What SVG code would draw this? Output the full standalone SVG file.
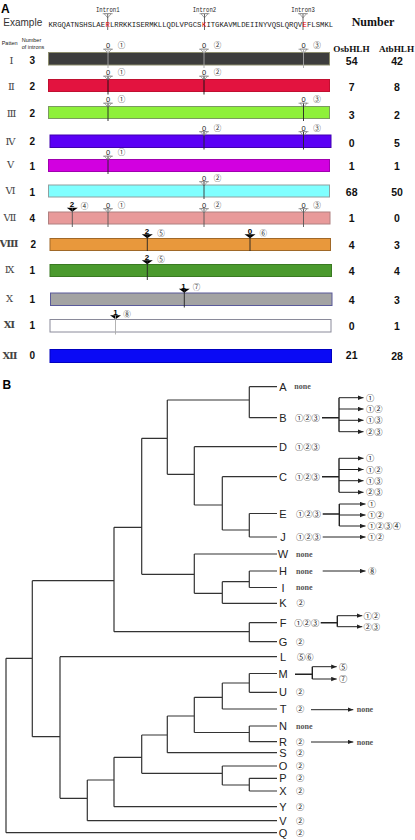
<svg xmlns="http://www.w3.org/2000/svg" xmlns:xlink="http://www.w3.org/1999/xlink" width="415" height="840" viewBox="0 0 415 840">
<style>
text{font-family:"Liberation Sans","DejaVu Sans",sans-serif;}
.pl{font-weight:bold;font-size:12px;fill:#000;}
.mono{font-family:"Liberation Mono","DejaVu Sans Mono",monospace;fill:#222;}
.seq{font-family:"Liberation Mono","DejaVu Sans Mono",monospace;fill:#222;font-size:7.25px;}
.red{fill:#e00000;}
.hdr{font-size:5.5px;fill:#222;}
.rom{font-family:"Liberation Serif","DejaVu Serif","Noto Sans CJK SC",serif;font-size:10px;fill:#444;text-anchor:middle;}
.ni{font-weight:bold;font-size:10px;fill:#111;text-anchor:middle;}
.num{font-weight:bold;font-size:10.5px;fill:#111;text-anchor:middle;}
.ser{font-family:"Liberation Serif","DejaVu Serif",serif;font-weight:bold;fill:#111;text-anchor:middle;}
.dig{font-size:7.5px;fill:#222;text-anchor:middle;}
.fdig{font-size:8px;font-weight:bold;fill:#000;text-anchor:middle;}
.cir{font-family:"Noto Sans CJK JP","DejaVu Sans",sans-serif;font-size:7.5px;fill:#333;text-anchor:middle;}
.vl{stroke-width:0.9;}
.tl{font-size:11px;fill:#222;text-anchor:middle;}
.ann{font-family:"Noto Sans CJK JP","DejaVu Sans",sans-serif;font-size:8.3px;fill:#222;}
.none{font-family:"Liberation Serif","DejaVu Serif",serif;font-weight:bold;font-size:8px;fill:#555;}
.tree{fill:none;stroke:#333;stroke-width:1.2;}
.arr{fill:none;stroke:#222;stroke-width:1;marker-end:url(#ah);}
.cn{fill:none;stroke:#222;stroke-width:1.4;}
</style>
<defs>
<marker id="ah" markerUnits="userSpaceOnUse" markerWidth="6" markerHeight="5" refX="5.5" refY="2.5" orient="auto"><path d="M0,0.3L5.5,2.5L0,4.7Z" fill="#222"/></marker>
<g id="hmk"><path d="M-5,-3.3H5" stroke="#666" stroke-width="0.6"/><path d="M-3.5,-3.3L3.5,-3.3L0,0.8Z" fill="#fff" stroke="#666" stroke-width="0.6"/></g>
<g id="fmk"><path d="M-5.5,-4.3H5.5L0,-0.3Z" fill="#000"/></g>
</defs>
<rect width="415" height="840" fill="#fff"/>

<g id="panelA">
<text class="pl" x="1" y="13.3">A</text>
<text x="3.3" y="26" style="font-size:10px;fill:#333">Example</text>
<g id="introns">
<text class="mono" x="96" y="11.5" style="font-size:8px" textLength="23.5" lengthAdjust="spacingAndGlyphs">Intron1</text>
<text class="mono" x="192.7" y="11.5" style="font-size:8px" textLength="23.5" lengthAdjust="spacingAndGlyphs">Intron2</text>
<text class="mono" x="291.3" y="11.5" style="font-size:8px" textLength="23.5" lengthAdjust="spacingAndGlyphs">Intron3</text>
<use xlink:href="#hmk" x="107.7" y="17"/>
<use xlink:href="#hmk" x="204.5" y="17"/>
<use xlink:href="#hmk" x="303" y="17"/>
<path d="M107.7,14V30M204.5,14V30M303,14V30" stroke="#444" stroke-width="0.8"/>
</g>
<g id="sequence">
<text class="seq" x="48.5" y="26.5">KRGQATNSHSLAE</text>
<text class="seq red" x="105.55" y="26.5">R</text>
<text class="seq" x="110" y="26.5">LRRKKISERMKLLQDLVPGCS</text>
<text class="seq red" x="201.95" y="26.5">K</text>
<text class="seq" x="206.4" y="26.5">ITGKAVMLDEIINYVQSLQRQV</text>
<text class="seq red" x="302.55" y="26.5">E</text>
<text class="seq" x="307" y="26.5">FLSMKL</text>
</g>
<text class="ser" x="373" y="26" style="font-size:12px">Number</text>
<text x="1.7" y="44.5" class="hdr">Patten</text>
<text x="21.7" y="42" class="hdr">Number</text>
<text x="21.7" y="48.5" class="hdr">of introns</text>
<text class="ser" x="351.5" y="52" style="font-size:9.2px">OsbHLH</text>
<text class="ser" x="396.5" y="52" style="font-size:9.2px">AtbHLH</text>

<g id="row-I">
<rect x="48.5" y="52.5" width="281" height="12.5" fill="#3d3d3d" stroke="#8d8d6d" stroke-width="1"/>
<use xlink:href="#hmk" x="108" y="52.5"/><use xlink:href="#hmk" x="204" y="52.5"/><use xlink:href="#hmk" x="303.5" y="52.5"/>
<path class="vl" d="M108,49.5V68M204,49.5V68M303.5,49.5V68" stroke="#a8a8a8"/>
<text class="dig" x="108" y="48.3">0</text><text class="cir" x="121.5" y="48">①</text>
<text class="dig" x="204" y="48.3">0</text><text class="cir" x="217.5" y="48">②</text>
<text class="dig" x="303.5" y="48.3">0</text><text class="cir" x="317" y="48">③</text>
<text class="rom" x="11.5" y="63.5">Ⅰ</text><text class="ni" x="32.3" y="64">3</text>
<text class="num" x="351.7" y="65.3">54</text><text class="num" x="397" y="65.3">42</text>
</g>

<g id="row-II">
<rect x="48.5" y="79.5" width="281" height="12" fill="#e3133f" stroke="#c01030" stroke-width="1"/>
<use xlink:href="#hmk" x="108" y="79.5"/><use xlink:href="#hmk" x="204" y="79.5"/>
<path class="vl" d="M108,76.5V94.5M204,76.5V94.5" stroke="#111"/>
<text class="dig" x="108" y="75.3">0</text><text class="cir" x="121.5" y="75">①</text>
<text class="dig" x="204" y="75.3">0</text><text class="cir" x="217.5" y="75">②</text>
<text class="rom" x="11.5" y="90">Ⅱ</text><text class="ni" x="32.3" y="90">2</text>
<text class="num" x="351.7" y="90.9">7</text><text class="num" x="397" y="90.9">8</text>
</g>

<g id="row-III">
<rect x="48.5" y="106.5" width="281" height="12" fill="#8ef03a" stroke="#7a9a60" stroke-width="1"/>
<use xlink:href="#hmk" x="108" y="106.5"/><use xlink:href="#hmk" x="303.5" y="106.5"/>
<path class="vl" d="M108,103.5V121M303.5,103.5V121" stroke="#222"/>
<text class="dig" x="108" y="102.3">0</text><text class="cir" x="121.5" y="102">①</text>
<text class="dig" x="303.5" y="102.3">0</text><text class="cir" x="317" y="102">③</text>
<text class="rom" x="11.5" y="117">Ⅲ</text><text class="ni" x="32.3" y="117">2</text>
<text class="num" x="351.7" y="118.6">3</text><text class="num" x="397" y="118.6">2</text>
</g>

<g id="row-IV">
<rect x="50" y="135" width="281" height="12.5" fill="#5a00f5" stroke="#4000b0" stroke-width="1"/>
<use xlink:href="#hmk" x="204" y="135"/><use xlink:href="#hmk" x="303.5" y="135"/>
<path class="vl" d="M204,132V149.5M303.5,132V149.5" stroke="#222"/>
<text class="dig" x="204" y="130.8">0</text><text class="cir" x="217.5" y="130.5">②</text>
<text class="dig" x="303.5" y="130.8">0</text><text class="cir" x="317" y="130.5">③</text>
<text class="rom" x="10.5" y="145">Ⅳ</text><text class="ni" x="32.3" y="145">2</text>
<text class="num" x="351.7" y="146.9">0</text><text class="num" x="397" y="146.9">5</text>
</g>

<g id="row-V">
<rect x="48.5" y="159.5" width="281" height="12" fill="#d200e0" stroke="#a000b0" stroke-width="1"/>
<use xlink:href="#hmk" x="108" y="159.5"/>
<path class="vl" d="M108,156.5V174" stroke="#222"/>
<text class="dig" x="108" y="155.3">0</text><text class="cir" x="121.5" y="155">①</text>
<text class="rom" x="10.5" y="168">Ⅴ</text><text class="ni" x="32.3" y="170">1</text>
<text class="num" x="351.7" y="170.3">1</text><text class="num" x="397" y="170.3">1</text>
</g>

<g id="row-VI">
<rect x="48.5" y="185" width="281" height="12" fill="#80ffff" stroke="#90a0a0" stroke-width="1"/>
<use xlink:href="#hmk" x="204" y="185"/>
<path class="vl" d="M204,182V199" stroke="#333"/>
<text class="dig" x="204" y="180.8">0</text><text class="cir" x="217.5" y="180.5">②</text>
<text class="rom" x="10.5" y="194">Ⅵ</text><text class="ni" x="32.3" y="196">1</text>
<text class="num" x="351.7" y="195.9">68</text><text class="num" x="397" y="195.9">50</text>
</g>

<g id="row-VII">
<rect x="48.5" y="212" width="281.5" height="12" fill="#e89a9a" stroke="#b08080" stroke-width="1"/>
<use xlink:href="#fmk" x="72.3" y="212"/><use xlink:href="#hmk" x="108" y="212"/><use xlink:href="#hmk" x="204" y="212"/><use xlink:href="#hmk" x="303.5" y="212"/>
<path class="vl" d="M72.3,208V227M108,209V227M204,209V227M303.5,209V227" stroke="#555"/>
<text class="fdig" x="72" y="207">2</text><text class="cir" x="84.5" y="209">④</text>
<text class="dig" x="108" y="207.8">0</text><text class="cir" x="121.5" y="207.5">①</text>
<text class="dig" x="204" y="207.8">0</text><text class="cir" x="217.5" y="207.5">②</text>
<text class="dig" x="303.5" y="207.8">0</text><text class="cir" x="317" y="207.5">③</text>
<text class="rom" x="10" y="221">Ⅶ</text><text class="ni" x="32.3" y="222">4</text>
<text class="num" x="351.7" y="221.9">1</text><text class="num" x="397" y="221.9">0</text>
</g>

<g id="row-VIII">
<rect x="50" y="238.5" width="280.5" height="12" fill="#e8983c" stroke="#a06828" stroke-width="1"/>
<use xlink:href="#fmk" x="147.3" y="238.5"/><use xlink:href="#fmk" x="250" y="238.5"/>
<path class="vl" d="M147.3,234.5V251M250,234.5V251" stroke="#222"/>
<text class="fdig" x="147" y="234">2</text><text class="cir" x="161" y="235.5">⑤</text>
<text class="fdig" x="250" y="234">0</text><text class="cir" x="263.3" y="235.5">⑥</text>
<text class="rom" x="9" y="247" style="font-weight:bold">Ⅷ</text><text class="ni" x="33.3" y="248">2</text>
<text class="num" x="351.7" y="248.6">4</text><text class="num" x="397" y="248.6">3</text>
</g>

<g id="row-IX">
<rect x="50" y="264.5" width="281.5" height="12" fill="#4b9a2e" stroke="#3a7a22" stroke-width="1"/>
<use xlink:href="#fmk" x="147.3" y="264.5"/>
<path class="vl" d="M147.3,260.5V280" stroke="#222"/>
<text class="fdig" x="147" y="260">2</text><text class="cir" x="161" y="261.5">⑤</text>
<text class="rom" x="9.5" y="273">Ⅸ</text><text class="ni" x="32.3" y="274">1</text>
<text class="num" x="351.7" y="275.3">4</text><text class="num" x="397" y="275.3">4</text>
</g>

<g id="row-X">
<rect x="50.5" y="293" width="281.5" height="12.5" fill="#a3a3a3" stroke="#5a5a9a" stroke-width="1"/>
<use xlink:href="#fmk" x="184.3" y="293"/>
<path class="vl" d="M184.3,289V307.5" stroke="#222"/>
<text class="fdig" x="183.5" y="288.5">1</text><text class="cir" x="196.5" y="290">⑦</text>
<text class="rom" x="9.5" y="302">Ⅹ</text><text class="ni" x="32.3" y="303">1</text>
<text class="num" x="351.7" y="303.6">4</text><text class="num" x="397" y="303.6">3</text>
</g>

<g id="row-XI">
<rect x="50" y="319.5" width="281" height="12.5" fill="#ffffff" stroke="#8a8a9a" stroke-width="1"/>
<use xlink:href="#fmk" x="115.5" y="319.5"/>
<path class="vl" d="M115.5,315.5V334.5" stroke="#aaa"/>
<text class="fdig" x="115.5" y="315">1</text><text class="cir" x="127" y="316.5">⑧</text>
<text class="rom" x="9.5" y="328" style="font-weight:bold">Ⅺ</text><text class="ni" x="32.3" y="329">1</text>
<text class="num" x="351.7" y="330.3">0</text><text class="num" x="397" y="330.3">1</text>
</g>

<g id="row-XII">
<rect x="50" y="349.5" width="281.5" height="13" fill="#0a0af5" stroke="#0000c0" stroke-width="1"/>
<text class="rom" x="10" y="359" style="font-weight:bold">Ⅻ</text><text class="ni" x="32.3" y="359">0</text>
<text class="num" x="351.7" y="358.6">21</text><text class="num" x="397" y="360">28</text>
</g>
</g>

<g id="panelB">
<text class="pl" x="2.5" y="388.6">B</text>
<g id="connectors">
<path class="tree" d="M249.3,386.7V417.7M249.3,386.7H277M249.3,417.7H277M167.3,400H249.3
M167.3,400V474.3M141.7,438.3H167.3
M194.3,446.7V505M194.3,446.7H277M167.3,474.3H194.3
M222.3,476.7V530M222.3,476.7H277M194.3,505H222.3
M249.3,513.5V537M249.3,513.5H277M249.3,537H277M222.3,530H249.3
M141.7,438.3V574.3
M194.3,554V593.3M194.3,554H277M141.7,574.3H194.3
M222.3,581.7V603.3M222.3,603.3H277M194.3,593.3H222.3
M249.3,571V587.5M249.3,571H277M249.3,587.5H277M222.3,581.7H249.3
M114,527.3V631.7M114,527.3H141.7
M249.3,622.7V641.7M249.3,622.7H277M249.3,641.7H277M114,631.7H249.3
M32.3,580.7V736.7M32.3,580.7H114
M6,658.3V832.7M6,658.3H32.3M6,832.7H277
M60,656.7V798.3M60,656.7H277M32.3,736.7H60
M87.3,780V820.7M87.3,820.7H277M60,798.3H87.3
M114,757.3V806.7M114,806.7H277M87.3,780H114
M141.7,735V773.3M114,757.3H141.7
M222.3,766V785M222.3,766H277M141.7,773.3H222.3
M249.3,778.3V791M249.3,778.3H277M249.3,791H277M222.3,785H249.3
M167.3,716V752.7M167.3,752.7H277M141.7,735H167.3
M194.3,697.3V732.5M167.3,716H194.3
M249.3,726V741.7M249.3,726H277M249.3,741.7H277M194.3,732.5H249.3
M222.3,683V709M222.3,709H277M194.3,697.3H222.3
M249.3,673.5V692.3M249.3,673.5H277M249.3,692.3H277M222.3,683H249.3"/>
<path class="cn" d="M322,417.7H339M339,397.7V431.7M322,476.7H339M339,458.3V492.3M322.7,514H339.3M339.3,504V526M320.7,622.7H337.3M337.3,615.7V626.7M295,674.3H312.3M312.3,666.7V679"/>
<path class="arr" d="M339,397.7H363.5"/><path class="arr" d="M339,409H363.5"/><path class="arr" d="M339,420.3H363.5"/><path class="arr" d="M339,431.7H363.5"/>
<path class="arr" d="M339,458.3H363.5"/><path class="arr" d="M339,469.5H363.5"/><path class="arr" d="M339,480.7H363.5"/><path class="arr" d="M339,492.3H363.5"/>
<path class="arr" d="M339.3,504H365.5"/><path class="arr" d="M339.3,515H365.5"/><path class="arr" d="M339.3,526H365.5"/>
<path class="arr" d="M322.7,537H365.5"/>
<path class="arr" d="M322.7,571H365.5"/>
<path class="arr" d="M337.3,615.7H362.3"/><path class="arr" d="M337.3,626.7H362.3"/>
<path class="arr" d="M312.3,666.7H336.7"/><path class="arr" d="M312.3,679H336.7"/>
<path class="arr" d="M311,709.7H353.3"/>
<path class="arr" d="M311,742H353.3"/>
</g>
<g id="leaf-A"><text class="tl" x="283" y="390.7">A</text><text class="none" x="294.3" y="389">none</text></g>
<g id="leaf-B"><text class="tl" x="283" y="421.7">B</text><text class="ann" x="295" y="420.7">①②③</text>
<text class="ann" x="366" y="400.7">①</text><text class="ann" x="366" y="412">①②</text><text class="ann" x="366" y="423.3">①③</text><text class="ann" x="366" y="434.7">②③</text></g>
<g id="leaf-D"><text class="tl" x="283" y="450.7">D</text><text class="ann" x="295" y="449.7">①②③</text></g>
<g id="leaf-C"><text class="tl" x="283" y="480.7">C</text><text class="ann" x="295" y="479.7">①②③</text>
<text class="ann" x="366" y="461.3">①</text><text class="ann" x="366" y="472.5">①②</text><text class="ann" x="366" y="483.7">①③</text><text class="ann" x="366" y="495.3">②③</text></g>
<g id="leaf-E"><text class="tl" x="283" y="517.5">E</text><text class="ann" x="296" y="516.5">①②③</text>
<text class="ann" x="367.5" y="507">①</text><text class="ann" x="367.5" y="518">①②</text><text class="ann" x="367.5" y="529">①②③④</text></g>
<g id="leaf-J"><text class="tl" x="283" y="541">J</text><text class="ann" x="296" y="540">①②③</text><text class="ann" x="367.5" y="540">①②</text></g>
<g id="leaf-W"><text class="tl" x="283" y="558">W</text><text class="none" x="296" y="556.5">none</text></g>
<g id="leaf-H"><text class="tl" x="283" y="575">H</text><text class="none" x="296" y="573.5">none</text><text class="ann" x="368" y="574">⑧</text></g>
<g id="leaf-I"><text class="tl" x="283" y="591.5">I</text><text class="none" x="296" y="590">none</text></g>
<g id="leaf-K"><text class="tl" x="283" y="607.3">K</text><text class="ann" x="296.5" y="606.3">②</text></g>
<g id="leaf-F"><text class="tl" x="283" y="626.7">F</text><text class="ann" x="294.3" y="625.7">①②③</text><text class="ann" x="363.5" y="618.7">①②</text><text class="ann" x="363.5" y="629.7">②③</text></g>
<g id="leaf-G"><text class="tl" x="283" y="645.7">G</text><text class="ann" x="296" y="644.7">②</text></g>
<g id="leaf-L"><text class="tl" x="283" y="661">L</text><text class="ann" x="297" y="660">⑤⑥</text></g>
<g id="leaf-M"><text class="tl" x="283" y="677.5">M</text><text class="ann" x="339" y="669.7">⑤</text><text class="ann" x="339" y="682">⑦</text></g>
<g id="leaf-U"><text class="tl" x="283" y="696.3">U</text><text class="ann" x="296" y="695.3">②</text></g>
<g id="leaf-T"><text class="tl" x="283" y="713">T</text><text class="ann" x="296" y="712">②</text><text class="none" x="356.7" y="712.2">none</text></g>
<g id="leaf-N"><text class="tl" x="283" y="730">N</text><text class="none" x="296" y="728.5">none</text></g>
<g id="leaf-R"><text class="tl" x="283" y="745.7">R</text><text class="ann" x="296" y="744.7">②</text><text class="none" x="356.7" y="744.5">none</text></g>
<g id="leaf-S"><text class="tl" x="283" y="757">S</text><text class="ann" x="296" y="756">②</text></g>
<g id="leaf-O"><text class="tl" x="283" y="770">O</text><text class="ann" x="296" y="769">②</text></g>
<g id="leaf-P"><text class="tl" x="283" y="782.3">P</text><text class="ann" x="296" y="781.3">②</text></g>
<g id="leaf-X"><text class="tl" x="283" y="795">X</text><text class="ann" x="296" y="794">②</text></g>
<g id="leaf-Y"><text class="tl" x="283" y="810.5">Y</text><text class="ann" x="296" y="809.5">②</text></g>
<g id="leaf-V"><text class="tl" x="283" y="824.5">V</text><text class="ann" x="296" y="823.5">②</text></g>
<g id="leaf-Q"><text class="tl" x="283" y="836.7">Q</text><text class="ann" x="296" y="835.7">②</text></g>
</g>
</svg>
